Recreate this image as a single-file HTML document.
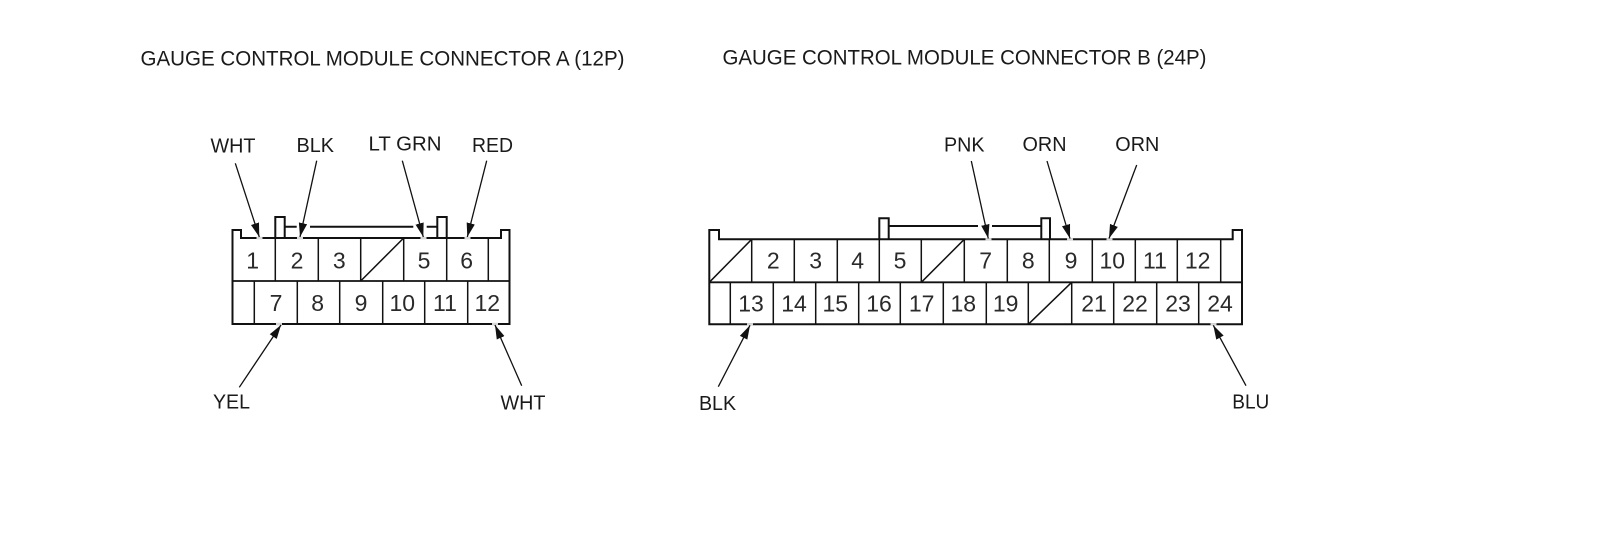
<!DOCTYPE html>
<html>
<head>
<meta charset="utf-8">
<style>
html,body{margin:0;padding:0;background:#fff;}
svg{display:block;}
text{font-family:"Liberation Sans",Arial,sans-serif;fill:#111;}
.t{font-size:21px;fill:#1a1a1a;}
.l{font-size:20.5px;fill:#1a1a1a;}
.n{font-size:23px;text-anchor:middle;fill:#2a2a2a;}
.o{fill:none;stroke:#111;stroke-width:2;stroke-linejoin:miter;}
.m{fill:none;stroke:#111;stroke-width:1.8;}
.c{fill:none;stroke:#111;stroke-width:1.5;}
.a{fill:none;stroke:#111;stroke-width:1.3;marker-end:url(#ah);}
.g{fill:#d8d8d8;}
</style>
</head>
<body>
<svg width="1600" height="552" viewBox="0 0 1600 552" xmlns="http://www.w3.org/2000/svg">
<defs>
<marker id="ah" markerUnits="userSpaceOnUse" markerWidth="16" markerHeight="10" viewBox="0 0 16 10" refX="14" refY="5" orient="auto">
<path d="M0,0.8 L14,5 L0,9.2 Z" fill="#111"/>
</marker>
</defs>
<rect width="1600" height="552" fill="#fff"/>

<text class="t" x="140.5" y="65.5" textLength="484" lengthAdjust="spacingAndGlyphs">GAUGE CONTROL MODULE CONNECTOR A (12P)</text>
<text class="t" x="722.5" y="64.5" textLength="484" lengthAdjust="spacingAndGlyphs">GAUGE CONTROL MODULE CONNECTOR B (24P)</text>

<!-- Connector A -->
<path class="o" d="M232.5,324 V230 H241 V238 H501 V230 H509.5 V324 Z"/>
<path class="m" d="M232.5,281 H509.5"/>
<path class="o" d="M275.3,238 V217 H284.7 V238 M437.3,238 V217 H446.7 V238"/>
<path class="o" d="M284.7,226.7 H296.7 M310,226.7 H413.3 M426.7,226.7 H437.3"/>
<path class="c" d="M275.3,238 V281 M318.3,238 V281 M360.7,238 V281 M403.7,238 V281 M446.7,238 V281 M488.3,238 V281"/>
<path class="c" d="M254.3,281 V324 M297.3,281 V324 M339.7,281 V324 M382.7,281 V324 M424.7,281 V324 M467.7,281 V324"/>
<path class="c" d="M360.7,281 L403.7,238"/>
<rect class="g" x="256.5" y="236.8" width="6" height="2.6"/>
<rect class="g" x="297" y="236.8" width="6" height="2.6"/>
<rect class="g" x="420.5" y="236.8" width="6" height="2.6"/>
<rect class="g" x="464.5" y="236.8" width="6" height="2.6"/>
<rect class="g" x="276" y="322.8" width="6" height="2.6"/>
<rect class="g" x="492" y="322.8" width="6" height="2.6"/>

<path class="a" d="M235.3,163.3 L259.3,237"/>
<path class="a" d="M316.7,160.7 L300,237"/>
<path class="a" d="M402.3,160.7 L423.3,237"/>
<path class="a" d="M486.7,160.7 L467.3,237"/>
<path class="a" d="M239.3,387.3 L281,325"/>
<path class="a" d="M521.7,385.7 L495,325"/>

<text class="l" x="210.5" y="152.5" textLength="45" lengthAdjust="spacingAndGlyphs">WHT</text>
<text class="l" x="296.5" y="152" textLength="37.5" lengthAdjust="spacingAndGlyphs">BLK</text>
<text class="l" x="368.5" y="150.7" textLength="73" lengthAdjust="spacingAndGlyphs">LT GRN</text>
<text class="l" x="472" y="152" textLength="41" lengthAdjust="spacingAndGlyphs">RED</text>
<text class="l" x="213" y="408.3" textLength="37" lengthAdjust="spacingAndGlyphs">YEL</text>
<text class="l" x="500.5" y="409.3" textLength="45" lengthAdjust="spacingAndGlyphs">WHT</text>

<text class="n" x="252.7" y="268.3">1</text>
<text class="n" x="297" y="268.3">2</text>
<text class="n" x="339.3" y="268.3">3</text>
<text class="n" x="424" y="268.3">5</text>
<text class="n" x="466.7" y="268.3">6</text>
<text class="n" x="276" y="311">7</text>
<text class="n" x="317.7" y="311">8</text>
<text class="n" x="361" y="311">9</text>
<text class="n" x="402.3" y="311">10</text>
<text class="n" x="445" y="311">11</text>
<text class="n" x="487.3" y="311">12</text>

<!-- Connector B -->
<path class="o" d="M709.3,324.3 V230 H719 V239.3 H1232.7 V230 H1242 V324.3 Z"/>
<path class="m" d="M709.3,282.3 H1242"/>
<path class="o" d="M879.3,239.3 V218.3 H888.7 V239.3 M1041.3,239.3 V218.3 H1050 V239.3"/>
<path class="o" d="M888.7,226 H978 M992,226 H1041.3"/>
<path class="c" d="M751.7,239.3 V282.3 M794.3,239.3 V282.3 M837.3,239.3 V282.3 M879.3,239.3 V282.3 M921.3,239.3 V282.3 M964.3,239.3 V282.3 M1007.3,239.3 V282.3 M1049.3,239.3 V282.3 M1092.3,239.3 V282.3 M1135.3,239.3 V282.3 M1177.3,239.3 V282.3 M1220.7,239.3 V282.3"/>
<path class="c" d="M730.3,282.3 V324.3 M773.3,282.3 V324.3 M815.7,282.3 V324.3 M858.7,282.3 V324.3 M900.3,282.3 V324.3 M943.3,282.3 V324.3 M986.3,282.3 V324.3 M1028.3,282.3 V324.3 M1071.7,282.3 V324.3 M1113.7,282.3 V324.3 M1156.7,282.3 V324.3 M1198.7,282.3 V324.3"/>
<path class="c" d="M709.3,282.3 L751.7,239.3 M921.3,282.3 L964.3,239.3 M1028.3,324.3 L1071.7,282.3"/>
<rect class="g" x="985.5" y="238.1" width="6" height="2.6"/>
<rect class="g" x="1067" y="238.1" width="6" height="2.6"/>
<rect class="g" x="1106.5" y="238.1" width="6" height="2.6"/>
<rect class="g" x="747" y="323.1" width="6" height="2.6"/>
<rect class="g" x="1210.5" y="323.1" width="6" height="2.6"/>

<path class="a" d="M971.3,161 L988.3,238.5"/>
<path class="a" d="M1047,161 L1070,238.5"/>
<path class="a" d="M1136.7,165 L1109,238.5"/>
<path class="a" d="M718.3,386.7 L750,325.3"/>
<path class="a" d="M1246,385.7 L1213.3,325.3"/>

<text class="l" x="944" y="151.7" textLength="40.5" lengthAdjust="spacingAndGlyphs">PNK</text>
<text class="l" x="1022.5" y="151" textLength="44" lengthAdjust="spacingAndGlyphs">ORN</text>
<text class="l" x="1115.3" y="151" textLength="44" lengthAdjust="spacingAndGlyphs">ORN</text>
<text class="l" x="699" y="410" textLength="37" lengthAdjust="spacingAndGlyphs">BLK</text>
<text class="l" x="1232.3" y="408.3" textLength="37" lengthAdjust="spacingAndGlyphs">BLU</text>

<text class="n" x="773.3" y="268.3">2</text>
<text class="n" x="815.7" y="268.3">3</text>
<text class="n" x="857.7" y="268.3">4</text>
<text class="n" x="900" y="268.3">5</text>
<text class="n" x="985.7" y="268.3">7</text>
<text class="n" x="1028.3" y="268.3">8</text>
<text class="n" x="1071" y="268.3">9</text>
<text class="n" x="1112.3" y="268.3">10</text>
<text class="n" x="1155" y="268.3">11</text>
<text class="n" x="1197.7" y="268.3">12</text>
<text class="n" x="751" y="311.7">13</text>
<text class="n" x="794" y="311.7">14</text>
<text class="n" x="835.3" y="311.7">15</text>
<text class="n" x="879" y="311.7">16</text>
<text class="n" x="921.7" y="311.7">17</text>
<text class="n" x="963.3" y="311.7">18</text>
<text class="n" x="1005.7" y="311.7">19</text>
<text class="n" x="1094" y="311.7">21</text>
<text class="n" x="1135" y="311.7">22</text>
<text class="n" x="1178" y="311.7">23</text>
<text class="n" x="1220" y="311.7">24</text>
</svg>
</body>
</html>
